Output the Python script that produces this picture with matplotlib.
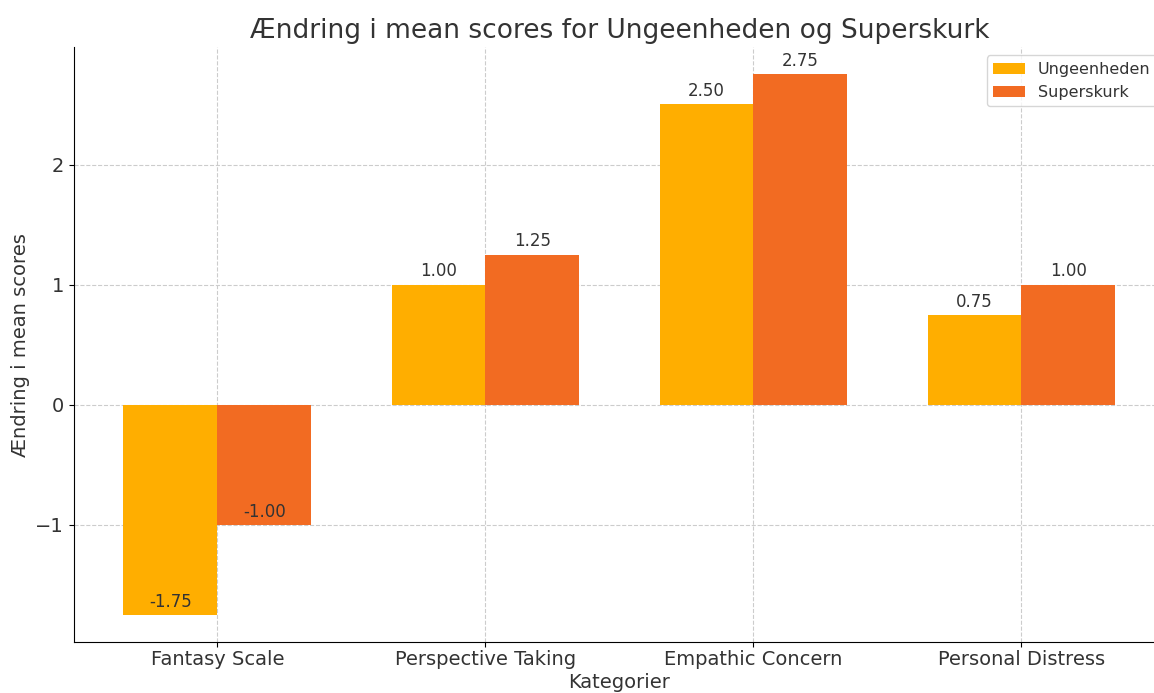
import numpy as np
import matplotlib.pyplot as plt

# data
categories = ['Fantasy Scale', 'Perspective Taking', 'Empathic Concern', 'Personal Distress']
ungeenheden = [-1.75, 1.00, 2.50, 0.75]
superskurk = [-1.00, 1.25, 2.75, 1.00]

text_col = '#333333'
x = np.arange(len(categories))
width = 0.35

fig = plt.figure(figsize=(11.54, 6.93), dpi=100)
# axes run a little past the right edge, like the cropped original
ax = fig.add_axes([0.064, 0.0736, 0.9454, 0.858])

b1 = ax.bar(x - width / 2, ungeenheden, width, label='Ungeenheden', color='#FFAE00', zorder=3)
b2 = ax.bar(x + width / 2, superskurk, width, label='Superskurk', color='#F26B22', zorder=3)

# value labels above bar end
for bars in (b1, b2):
    for bar in bars:
        h = bar.get_height()
        ax.annotate(f'{h:.2f}', xy=(bar.get_x() + bar.get_width() / 2, h),
                    xytext=(0, 3), textcoords='offset points',
                    ha='center', va='bottom', fontsize=12, color=text_col)

ax.set_xticks(x)
ax.set_xticklabels(categories, fontsize=14, color=text_col)
ax.tick_params(axis='x', pad=2)
ax.set_yticks([-1, 0, 1, 2])
ax.tick_params(axis='y', labelsize=14, labelcolor=text_col)
ax.set_xlim(-0.535, 3.535)
ax.set_ylim(-1.975, 2.975)

ax.set_title('Ændring i mean scores for Ungeenheden og Superskurk', fontsize=19, color=text_col, pad=7)
ax.set_xlabel('Kategorier', fontsize=14, color=text_col, labelpad=3)
ax.set_ylabel('Ændring i mean scores', fontsize=14, color=text_col)

ax.grid(True, linestyle='--', color='#cccccc', linewidth=0.8, zorder=0)
ax.spines['top'].set_visible(False)
ax.spines['right'].set_visible(False)

ax.legend(loc='upper right', fontsize=11.5, labelcolor=text_col)

fig.savefig('out.png', dpi=100)
